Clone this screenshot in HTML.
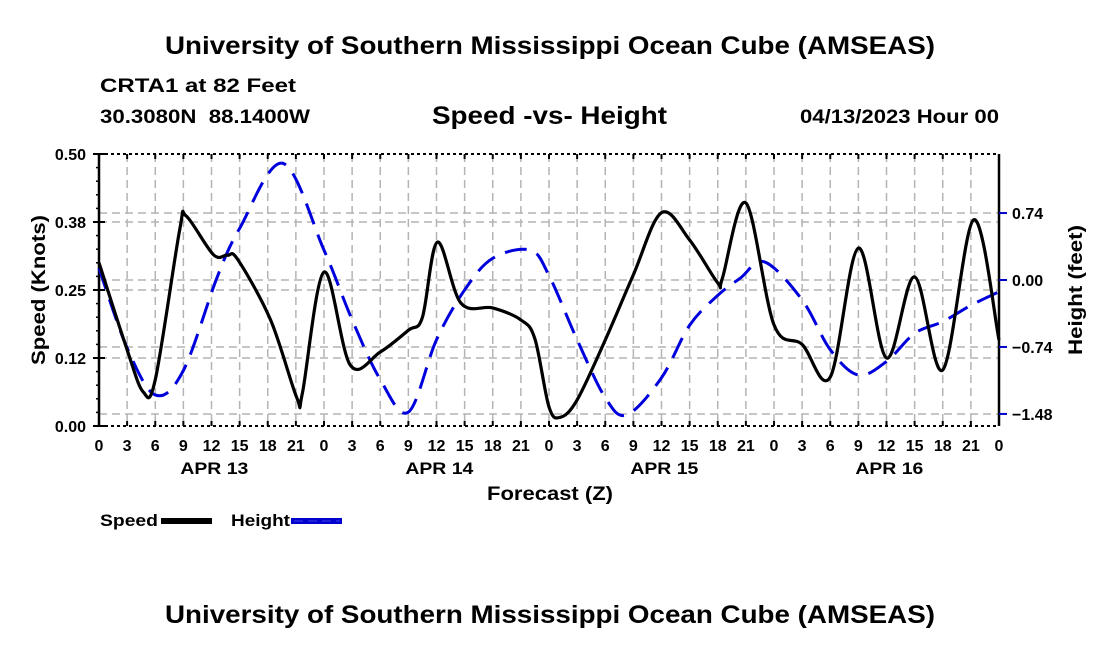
<!DOCTYPE html>
<html><head><meta charset="utf-8"><style>
body{margin:0;background:#fff;}
svg{display:block;font-family:"Liberation Sans",Arial,sans-serif;font-weight:bold;}
</style></head><body>
<svg id="chart" width="1100" height="650" viewBox="0 0 1100 650">
<text x="165" y="54" font-size="25" textLength="770" lengthAdjust="spacingAndGlyphs">University of Southern Mississippi Ocean Cube (AMSEAS)</text>
<text x="100" y="92" font-size="19" textLength="196" lengthAdjust="spacingAndGlyphs">CRTA1 at 82 Feet</text>
<text x="100" y="123" font-size="19" textLength="210" lengthAdjust="spacingAndGlyphs" xml:space="preserve">30.3080N  88.1400W</text>
<text x="432" y="124" font-size="25" textLength="235" lengthAdjust="spacingAndGlyphs">Speed -vs- Height</text>
<text x="800" y="123" font-size="19" textLength="199" lengthAdjust="spacingAndGlyphs">04/13/2023 Hour 00</text>
<g id="grid"></g>
<g id="axes"></g>
<g id="series"></g>
<text x="487" y="500" font-size="19" textLength="126" lengthAdjust="spacingAndGlyphs">Forecast (Z)</text>
<text transform="translate(45,365) rotate(-90)" font-size="19" textLength="150" lengthAdjust="spacingAndGlyphs">Speed (Knots)</text>
<text transform="translate(1082,355) rotate(-90)" font-size="19" textLength="130" lengthAdjust="spacingAndGlyphs">Height (feet)</text>
<g>
<text x="100" y="526" font-size="17" textLength="58" lengthAdjust="spacingAndGlyphs">Speed</text>
<line x1="161" y1="521" x2="212" y2="521" stroke="#000" stroke-width="6"/>
<text x="231" y="526" font-size="17" textLength="59" lengthAdjust="spacingAndGlyphs">Height</text>
<line x1="291" y1="521" x2="342" y2="521" stroke="#0000cc" stroke-width="6"/>
<line x1="294" y1="521" x2="340" y2="521" stroke="#2a2ae0" stroke-width="1.5" stroke-dasharray="9 5"/>
</g>
<text x="165" y="623" font-size="25" textLength="770" lengthAdjust="spacingAndGlyphs">University of Southern Mississippi Ocean Cube (AMSEAS)</text>
</svg>
<script>
const speedHours=[0,3,4.7,6,8.6,9.3,12.2,13.7,14.8,18.3,21.1,21.7,24,26.8,30,33,34.5,36.1,38.6,42,45,46.5,48,49.2,51,54,57,60,63,66,66.5,69,72,75,78,81,84,87,90,93.3,96];
const speedValues=[0.300,0.140,0.063,0.085,0.360,0.386,0.315,0.314,0.306,0.195,0.052,0.061,0.283,0.112,0.136,0.176,0.200,0.338,0.226,0.217,0.195,0.160,0.035,0.016,0.048,0.158,0.278,0.392,0.342,0.263,0.272,0.410,0.186,0.150,0.090,0.327,0.125,0.274,0.103,0.379,0.158];
const heightHours=[0,3,6,9,12.6,15,19.6,24,27,30,33,36,39,42,46,48,51,54,56.3,60,63,66,68.4,71,75,78,81,84,87,90,93,96];
const heightValues=[0.13,-0.75,-1.27,-1.0,0.03,0.57,1.29,0.33,-0.44,-1.1,-1.46,-0.66,-0.11,0.24,0.33,0.05,-0.66,-1.3,-1.49,-1.08,-0.5,-0.17,0.02,0.2,-0.22,-0.77,-1.05,-0.9,-0.59,-0.46,-0.28,-0.13];
const leftTicks=[0,0.125,0.25,0.375,0.5];
const leftTickLabels=["0.00","0.12","0.25","0.38","0.50"];
const rightTicks=[-1.48,-0.74,0,0.74];
const rightTickLabels=["\u22121.48","\u22120.74","0.00","0.74"];
const dayLabels=["APR 13","APR 14","APR 15","APR 16"];

const X0=99,X1=999,Y0=154,Y1=426;
const xs=h=>X0+h*(X1-X0)/96;
const ys=v=>Y1-v*(Y1-Y0)/0.5;
const yh=v=>280-v*90.5;
const NS="http://www.w3.org/2000/svg";
function mk(tag,attrs,parent){const e=document.createElementNS(NS,tag);for(const k in attrs)e.setAttribute(k,attrs[k]);parent.appendChild(e);return e;}
const grid=document.getElementById('grid'),axes=document.getElementById('axes'),series=document.getElementById('series');

for(let h=3;h<96;h+=3){const l=mk('line',{x1:xs(h),x2:xs(h),y1:Y0,y2:Y1,stroke:'#b4b4b4','stroke-width':1.5,'stroke-dasharray':'8 5'},grid);

}
leftTicks.slice(1,4).forEach(v=>{const l=mk('line',{x1:X0,x2:X1,y1:ys(v),y2:ys(v),stroke:'#b4b4b4','stroke-width':1.5,'stroke-dasharray':'8 5'},grid);

});
rightTicks.forEach(v=>{const l=mk('line',{x1:X0,x2:X1,y1:yh(v),y2:yh(v),stroke:'#b4b4b4','stroke-width':1.5,'stroke-dasharray':'8 5'},grid);

});

[[X0,Y0,X0,Y1],[X1,Y0,X1,Y1]].forEach(p=>{const l=mk('line',{x1:p[0],y1:p[1],x2:p[2],y2:p[3],stroke:'#000','stroke-width':2.5},axes);

});
[Y0,Y1].forEach(y=>{const l=mk('line',{x1:X0,y1:y,x2:X1,y2:y,stroke:'#000','stroke-width':2,'stroke-dasharray':'3 3'},axes);

});
for(let h=0;h<=96;h+=3){
 [Y0,Y1].forEach(y=>{const t=mk('line',{x1:xs(h),x2:xs(h),y1:y,y2:y===Y0?y+5:y-5,stroke:'#000','stroke-width':2},axes);
 
 });
 const lab=mk('text',{x:xs(h),y:451,'font-size':16,'text-anchor':'middle'},axes);lab.textContent=String(h%24);
 
 
}
dayLabels.forEach((d,i)=>{const t=mk('text',{x:xs(i*24+12.3)-34,y:474,'font-size':17,textLength:68,lengthAdjust:'spacingAndGlyphs'},axes);t.textContent=d;

});
leftTicks.forEach((v,i)=>{const t=mk('line',{x1:X0-6,x2:X0+6,y1:ys(v),y2:ys(v),stroke:'#000','stroke-width':2},axes);


const l=mk('text',{x:86,y:ys(v)+6,'font-size':16,'text-anchor':'end'},axes);l.textContent=leftTickLabels[i];

});
for(let v=0.025;v<0.5;v+=0.025){const t=mk('line',{x1:X0-3,x2:X0,y1:ys(v),y2:ys(v),stroke:'#000','stroke-width':1.5},axes);

}
rightTicks.forEach((v,i)=>{const t=mk('line',{x1:X1,x2:X1+8,y1:yh(v),y2:yh(v),stroke:'#0000cc','stroke-width':2},axes);


const l=mk('text',{x:1012,y:yh(v)+6,'font-size':16},axes);l.textContent=rightTickLabels[i];

});

function smooth(pts){let d='M'+pts[0][0]+','+pts[0][1];
 for(let i=0;i<pts.length-1;i++){const p0=pts[i-1]||pts[i],p1=pts[i],p2=pts[i+1],p3=pts[i+2]||p2;
  const c1=[p1[0]+(p2[0]-p0[0])/6,p1[1]+(p2[1]-p0[1])/6],c2=[p2[0]-(p3[0]-p1[0])/6,p2[1]-(p3[1]-p1[1])/6];
  d+=` C${c1[0]},${c1[1]} ${c2[0]},${c2[1]} ${p2[0]},${p2[1]}`;}
 return d;}
const hp=mk('path',{d:smooth(heightHours.map((h,i)=>[xs(h),yh(heightValues[i])])),fill:'none',stroke:'#0000dd','stroke-width':3,'stroke-dasharray':'22 11'},series);


const sp=mk('path',{d:smooth(speedHours.map((h,i)=>[xs(h),ys(speedValues[i])])),fill:'none',stroke:'#000','stroke-width':3.2,'stroke-linejoin':'round'},series);


</script>
</body></html>
